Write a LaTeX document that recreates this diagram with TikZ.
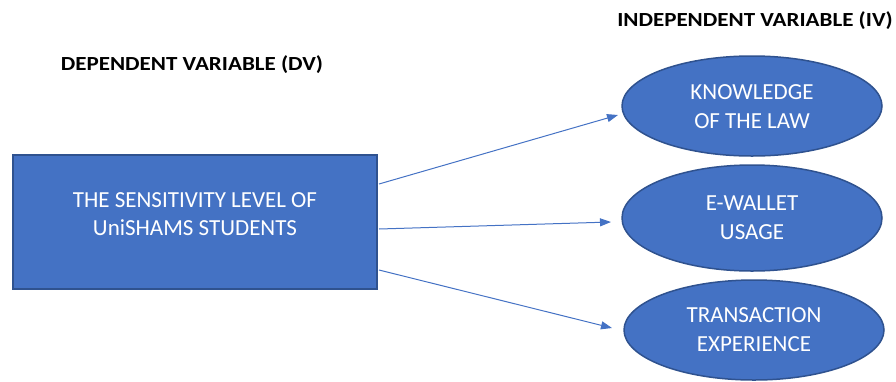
\documentclass[tikz,border=0pt]{standalone}
\usepackage{fontspec}
\setmainfont{Carlito}
\usetikzlibrary{shapes.geometric,arrows.meta}
\definecolor{boxblue}{HTML}{4472C4}
\definecolor{edgeblue}{HTML}{2F528F}
\tikzset{
  dvbox/.style={rectangle, fill=boxblue, draw=edgeblue, line width=1.5pt, minimum width=364pt, minimum height=134pt, inner sep=0pt},
  ivell/.style={ellipse, fill=boxblue, draw=edgeblue, line width=1.5pt, minimum width=260pt, minimum height=100pt, inner sep=0pt},
  intext/.style={text=white, font=\fontsize{23}{28}\selectfont, align=center},
  elltext/.style={text=white, font=\fontsize{23}{29}\selectfont, align=center},
  heading/.style={font=\bfseries\fontsize{20}{24}\selectfont, text=black}
}
\tikzset{conn/.style={draw=boxblue, line width=1pt, -{Triangle[length=11pt,width=8pt]}}}
\newcommand{\widehead}[1]{\scalebox{1.15}[1]{#1}}
\begin{document}
\begin{tikzpicture}[x=1pt,y=-1pt]
\useasboundingbox (0,0) rectangle (896,381);
\node[heading] (dvh) at (192,64.5) {\widehead{DEPENDENT VARIABLE (DV)}};
\node[heading] (ivh) at (755,20.5) {\widehead{INDEPENDENT VARIABLE (IV)}};
\node[dvbox] (dv) at (195,222) {};
\node[intext] (dvt) at (195,214) {THE SENSITIVITY LEVEL OF\\UniSHAMS STUDENTS};
\node[ivell] (e1) at (752,106) {};
\node[elltext] (e1t) at (752,107) {KNOWLEDGE\\OF THE LAW};
\node[ivell, minimum height=106pt] (e2) at (752,218) {};
\node[elltext] (e2t) at (752,218) {E-WALLET\\USAGE};
\node[ivell] (e3) at (754,330) {};
\node[elltext] (e3t) at (754,330) {TRANSACTION\\EXPERIENCE};
\coordinate (s1) at (379,184);
\coordinate (s2) at (379,229);
\coordinate (s3) at (379,270);
\coordinate (t1) at (618,115);
\coordinate (t2) at (611,222);
\coordinate (t3) at (612,328);
\draw[conn] (s1) -- (t1);
\draw[conn] (s2) -- (t2);
\draw[conn] (s3) -- (t3);
\end{tikzpicture}
\end{document}
